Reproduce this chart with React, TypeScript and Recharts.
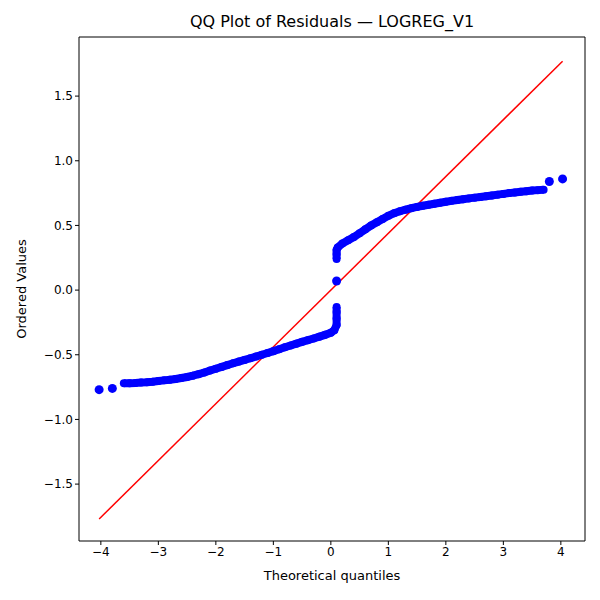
import { ComposedChart, Scatter, Line, XAxis, YAxis } from 'recharts';

const LEFT_X = [-3.6, -3.5, -3.4, -3.3, -3.2, -3.1, -3.0, -2.9, -2.8, -2.7, -2.6, -2.5, -2.4, -2.3, -2.2, -2.1, -2.0, -1.9, -1.8, -1.7, -1.6, -1.5, -1.4, -1.3, -1.2, -1.1, -1.0, -0.9, -0.8, -0.7, -0.6, -0.5, -0.4, -0.3, -0.2, -0.1, 0.0, 0.06, 0.1, 0.1, 0.1, 0.1];
const LEFT_Y = [-0.72, -0.72, -0.718, -0.715, -0.712, -0.708, -0.703, -0.698, -0.693, -0.687, -0.68, -0.672, -0.662, -0.65, -0.637, -0.622, -0.608, -0.594, -0.58, -0.566, -0.553, -0.54, -0.527, -0.513, -0.5, -0.486, -0.472, -0.457, -0.442, -0.428, -0.414, -0.4, -0.387, -0.374, -0.36, -0.346, -0.33, -0.31, -0.27, -0.22, -0.17, -0.13];
const RIGHT_X = [0.1, 0.1, 0.1, 0.12, 0.2, 0.3, 0.4, 0.5, 0.6, 0.7, 0.8, 0.9, 1.0, 1.1, 1.2, 1.3, 1.4, 1.5, 1.6, 1.7, 1.8, 1.9, 2.0, 2.1, 2.2, 2.3, 2.4, 2.5, 2.6, 2.7, 2.8, 2.9, 3.0, 3.1, 3.2, 3.3, 3.4, 3.5, 3.6, 3.7];
const RIGHT_Y = [0.24, 0.28, 0.31, 0.33, 0.36, 0.385, 0.41, 0.44, 0.47, 0.5, 0.525, 0.55, 0.575, 0.595, 0.61, 0.622, 0.633, 0.643, 0.652, 0.66, 0.668, 0.675, 0.683, 0.69, 0.697, 0.703, 0.709, 0.715, 0.72, 0.726, 0.732, 0.738, 0.744, 0.75, 0.755, 0.76, 0.765, 0.77, 0.773, 0.776];
const OUT_X = [-4.03, -3.8, 0.1, 3.8, 4.03];
const OUT_Y = [-0.77, -0.76, 0.07, 0.84, 0.86];
const REF_X = [-4.03, 4.03];
const REF_Y = [-1.77, 1.77];

const X_TICKS = [-4, -3, -2, -1, 0, 1, 2, 3, 4];
const Y_TICKS = [-1.5, -1.0, -0.5, 0.0, 0.5, 1.0, 1.5];

const zip = (xs: number[], ys: number[]) => xs.map((x, i) => ({ x, y: ys[i] }));
const fmtX = (v: number) => String(v).replace('-', '\u2212');
const fmtY = (v: number) => v.toFixed(1).replace('-', '\u2212');
const font = 'DejaVu Sans, sans-serif';
const tick = { fontSize: 12, fill: '#000', fontFamily: font };

export default function App() {
  return (
    <div style={{ position: 'relative', width: 600, height: 600, margin: -8, background: '#fff', fontFamily: font }}>
      <div style={{ position: 'absolute', top: 12, left: 79, width: 506, textAlign: 'center', fontSize: 16 }}>
        QQ Plot of Residuals — LOGREG_V1
      </div>
      <div style={{ position: 'absolute', top: 568, left: 79, width: 506, textAlign: 'center', fontSize: 13 }}>
        Theoretical quantiles
      </div>
      <div style={{ position: 'absolute', left: 21, top: 289, transform: 'translate(-50%,-50%) rotate(-90deg)', fontSize: 13, whiteSpace: 'nowrap' }}>
        Ordered Values
      </div>
      <ComposedChart width={600} height={600} margin={{ top: 36, right: 14, bottom: 19, left: 19 }}>
        <XAxis xAxisId="b" type="number" dataKey="x" domain={[-4.38, 4.42]} ticks={X_TICKS} tickFormatter={fmtX}
          allowDataOverflow height={40} stroke="#000" tick={tick} tickSize={4} />
        <XAxis xAxisId="t" type="number" orientation="top" domain={[-4.38, 4.42]} tick={false} tickLine={false} height={1} stroke="#000" />
        <YAxis yAxisId="l" type="number" dataKey="y" domain={[-1.94, 1.957]} ticks={Y_TICKS} tickFormatter={fmtY}
          allowDataOverflow width={60} stroke="#000" tick={tick} tickSize={4} />
        <YAxis yAxisId="r" orientation="right" type="number" domain={[-1.94, 1.957]} tick={false} tickLine={false} width={1} stroke="#000" />
        <Scatter xAxisId="b" yAxisId="l" data={zip(LEFT_X, LEFT_Y)} fill="#0000ff" line={{ stroke: '#0000ff', strokeWidth: 8 }} shape={<circle r={4} />} isAnimationActive={false} />
        <Scatter xAxisId="b" yAxisId="l" data={zip(RIGHT_X, RIGHT_Y)} fill="#0000ff" line={{ stroke: '#0000ff', strokeWidth: 8 }} shape={<circle r={4} />} isAnimationActive={false} />
        <Scatter xAxisId="b" yAxisId="l" data={zip(OUT_X, OUT_Y)} fill="#0000ff" isAnimationActive={false}
          shape={(p: any) => <circle cx={p.cx} cy={p.cy} r={4.5} fill="#0000ff" />} />
        <Line xAxisId="b" yAxisId="l" data={zip(REF_X, REF_Y)} dataKey="y" type="linear" stroke="#ff0000" strokeWidth={1.5} dot={false} isAnimationActive={false} />
      </ComposedChart>
    </div>
  );
}
